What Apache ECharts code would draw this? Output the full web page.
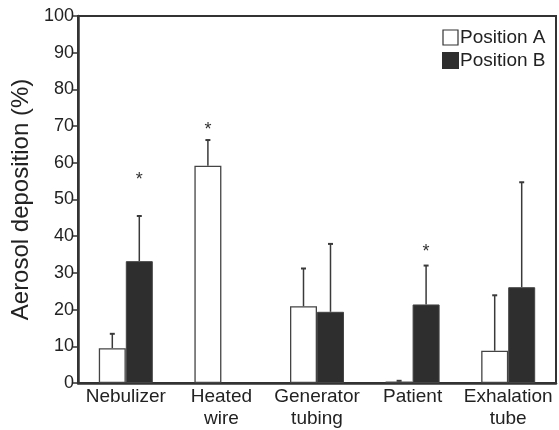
<!DOCTYPE html>
<html><head><meta charset="utf-8">
<script src="https://cdn.jsdelivr.net/npm/echarts@6/dist/echarts.min.js"></script>
<style>html,body{margin:0;padding:0;background:#fff}#c{width:559px;height:430px}</style>
</head><body><div id="c"></div>
<script>
const categories = ['Nebulizer', 'Heated\nwire', 'Generator\ntubing', 'Patient', 'Exhalation\ntube'];
const valuesA = [9.5, 59.2, 20.9, 0.4, 8.8];
const valuesB = [33.2, null, 19.4, 21.4, 26.1];
const errA = [3.9, 7.0, 10.3, 0.2, 15.1];
const errB = [12.3, null, 18.5, 10.6, 28.6];
const starA = [null, 69, null, null, null];
const starB = [55.3, null, null, 35.6, null];
const yTicks = [0, 10, 20, 30, 40, 50, 60, 70, 80, 90, 100];

const BW = 27;
const FONT = 'Liberation Sans, Arial, sans-serif';
const DARK = '#2e2e2e';

function errSeries(vals, errs, off) {
  return {
    type: 'custom', silent: true, z: 1,
    data: vals.map((v, i) => [i, v, errs[i]]),
    renderItem: function (params, api) {
      const v = api.value(1), e = api.value(2);
      if (v == null || isNaN(v) || e == null || isNaN(e)) return null;
      const p0 = api.coord([api.value(0), v]);
      const p1 = api.coord([api.value(0), v + e]);
      const x = p0[0] + off;
      return { type: 'group', children: [
        { type: 'line', shape: { x1: x, y1: p0[1], x2: x, y2: p1[1] }, style: { stroke: '#3a3a3a', lineWidth: 1.5 } },
        { type: 'line', shape: { x1: x - 2.5, y1: p1[1], x2: x + 2.5, y2: p1[1] }, style: { stroke: '#3a3a3a', lineWidth: 2 } }
      ]};
    }
  };
}
function starSeries(vals, off) {
  return {
    type: 'custom', silent: true, z: 3,
    data: vals.map((v, i) => [i, v]),
    renderItem: function (params, api) {
      const v = api.value(1);
      if (v == null || isNaN(v)) return null;
      const p = api.coord([api.value(0), v]);
      return { type: 'text', style: { x: p[0] + off, y: p[1], text: '*', fill: '#333', font: '18px ' + FONT, align: 'center', verticalAlign: 'middle' } };
    }
  };
}

const chart = echarts.init(document.getElementById('c'), null, { renderer: 'canvas' });
chart.setOption({
  animation: false,
  backgroundColor: '#fff',
  grid: { left: 78, right: 3, top: 16, bottom: 44, show: true, borderColor: '#333', borderWidth: 2, backgroundColor: 'transparent' },
  legend: {
    orient: 'vertical', left: 437, top: 23, itemWidth: 15, itemHeight: 15, itemGap: 4,
    textStyle: { fontFamily: FONT, fontSize: 19, color: '#222', padding: [0, 0, 0, -3] },
    data: [
      { name: 'Position A', icon: 'rect', itemStyle: { color: '#fff', borderColor: '#333', borderWidth: 1.2 } },
      { name: 'Position B', icon: 'rect', itemStyle: { color: DARK, borderColor: DARK } }
    ]
  },
  xAxis: {
    type: 'category', data: categories,
    axisLine: { lineStyle: { color: '#333', width: 2.5 } },
    axisTick: { show: false },
    axisLabel: { fontFamily: FONT, fontSize: 19, color: '#222', margin: 3, lineHeight: 22, interval: 0 }
  },
  yAxis: {
    type: 'value', min: 0, max: 100, interval: 10,
    name: 'Aerosol deposition (%)', nameLocation: 'middle', nameGap: 42,
    nameTextStyle: { fontFamily: FONT, fontSize: 24, color: '#222' },
    axisLine: { show: true, lineStyle: { color: '#333', width: 2.5 } },
    axisTick: { show: true, length: 5, lineStyle: { color: '#333', width: 1.5 } },
    splitLine: { show: false },
    axisLabel: {
      fontFamily: FONT, fontSize: 18, color: '#222', margin: 4,
      formatter: function (v) { return yTicks.indexOf(v) >= 0 ? String(v) : ''; }
    }
  },
  series: [
    { name: 'Position A', type: 'bar', data: valuesA, barWidth: BW, barGap: '0%', z: 2,
      itemStyle: { color: '#fff', borderColor: '#444', borderWidth: 1.3 } },
    { name: 'Position B', type: 'bar', data: valuesB, barWidth: BW, barGap: '0%', z: 2,
      itemStyle: { color: DARK, borderColor: '#444', borderWidth: 1 } },
    errSeries(valuesA, errA, -BW / 2),
    errSeries(valuesB, errB, BW / 2),
    starSeries(starA, -BW / 2),
    starSeries(starB, BW / 2)
  ]
});
</script></body></html>
